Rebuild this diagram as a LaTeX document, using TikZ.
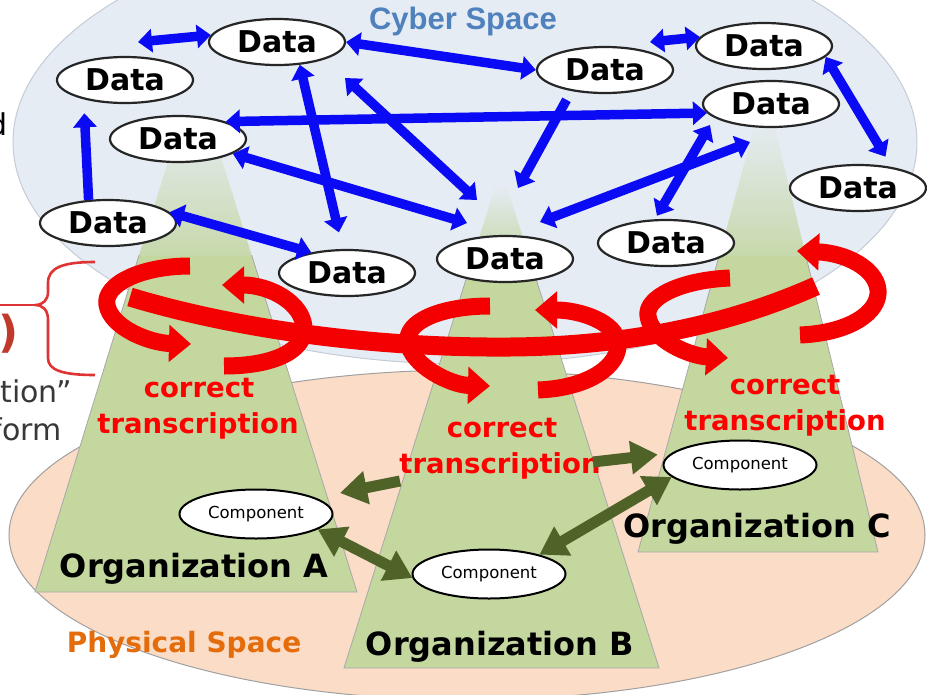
\documentclass[tikz,border=0pt]{standalone}
\usepackage{fontspec}
\setmainfont{DejaVu Sans}
\newfontfamily\arialfamily{Liberation Sans}
\usetikzlibrary{shapes.geometric,arrows.meta}

\definecolor{cyberfill}{HTML}{E6ECF4}
\definecolor{cyberline}{HTML}{C5CCD6}
\definecolor{physfill}{HTML}{FADCC7}
\definecolor{physline}{HTML}{A0A0A0}
\definecolor{orggreen}{HTML}{C4D79E}
\definecolor{peakgreen}{HTML}{CAD6C0}
\definecolor{bandgreen}{HTML}{C7D9AC}
\definecolor{orgedge}{HTML}{A8A8A8}
\definecolor{bluearr}{HTML}{0A0AF5}
\definecolor{olivearr}{HTML}{4F6228}
\definecolor{ribbonred}{HTML}{F50000}
\definecolor{cyberblue}{HTML}{4F81BD}
\definecolor{physorange}{HTML}{E46C0A}
\definecolor{darkred}{HTML}{C0392B}
\definecolor{bracered}{HTML}{E03434}

\tikzset{
  datanode/.style={ellipse, draw=black!85, line width=2.2pt, fill=white,
    minimum width=136pt, minimum height=46pt, inner sep=0pt,
    font=\bfseries\fontsize{30}{30}\selectfont},
  compnode/.style={ellipse, draw=black, line width=2pt, fill=white,
    minimum width=153pt, minimum height=49pt, inner sep=0pt,
    font=\fontsize{16.5}{16.5}\selectfont},
  barrow/.style={draw=bluearr, line width=9.5pt, >={Triangle[width=23pt,length=14pt]}, <->},
  barrowone/.style={draw=bluearr, line width=9.5pt, >={Triangle[width=23pt,length=14pt]}, ->},
  garrow/.style={draw=olivearr, line width=11pt, >={Triangle[width=32pt,length=27pt]}, <->},
  garrowone/.style={draw=olivearr, line width=11pt, >={Triangle[width=32pt,length=27pt]}, ->},
  ribbon/.style={draw=ribbonred, line width=17pt, line join=round, >={Triangle[width=36pt,length=22pt]}, ->},
  bandribbon/.style={draw=ribbonred, line width=19pt, line join=round},
  corrtext/.style={text=red, anchor=base, inner sep=0pt, font=\bfseries\fontsize{27.5}{27.5}\selectfont},
  orglabel/.style={anchor=base, inner sep=0pt, font=\bfseries\fontsize{32}{32}\selectfont},
  cuttext/.style={anchor=base east, inner sep=0pt, text=black!78, font=\fontsize{30}{30}\selectfont},
}

% One organization: a green cone, fading out where it rises into cyber space
% #1 apex, #2 base left, #3 base right, #4 height where the fade begins
\newcommand\drawOrgPeak[4]{%
  \begin{scope}
    \clip #1 -- #2 -- #3 -- cycle;
    \fill[orggreen] (0,255) rectangle (927,700);
    \shade[top color=cyberfill, middle color=peakgreen, bottom color=bandgreen] (0,#4) rectangle (927,255);
  \end{scope}
  \begin{scope}
    \clip (0,255) rectangle (927,700);
    \draw[orgedge, line width=0.8pt] #1 -- #2 -- #3 -- cycle;
  \end{scope}}

\begin{document}
\begin{tikzpicture}[x=1pt,y=-1pt]
\useasboundingbox (0,0) rectangle (927,694);
\clip (0,0) rectangle (927,694);

% the two spaces
\draw[physline, fill=physfill, line width=1pt] (467,535) ellipse [x radius=458pt, y radius=165pt];
\draw[cyberline, fill=cyberfill, line width=1pt] (465,142) ellipse [x radius=452pt, y radius=222pt];

% organizations
\drawOrgPeak{(195,74)}{(35,592)}{(357,592)}{115}
\drawOrgPeak{(501,168)}{(344,668)}{(659,668)}{185}
\drawOrgPeak{(765,88)}{(638,552)}{(878,552)}{120}

% red ribbon linking the three organizations
\draw[bandribbon] (130,297) .. controls (250,333) and (390,348) .. (510,347)
                  .. controls (640,346) and (740,320) .. (816,286);
% rotating arrows round each organization
\draw[ribbon] (190,266) .. controls (140,266) and (103,285) .. (107,305)
              .. controls (111,328) and (150,343) .. (191,344);
\draw[ribbon] (224,366) .. controls (275,366) and (305,350) .. (304,328)
              .. controls (303,303) and (270,285) .. (222,285);
\draw[ribbon] (490,306) .. controls (440,306) and (405,322) .. (408,342)
              .. controls (411,365) and (450,385) .. (490,386);
\draw[ribbon] (538,390) .. controls (590,388) and (620,365) .. (618,343)
              .. controls (616,322) and (580,310) .. (535,310);
\draw[ribbon] (730,278) .. controls (680,280) and (645,298) .. (648,316)
              .. controls (651,340) and (690,356) .. (728,358);
\draw[ribbon] (800,335) .. controls (850,333) and (880,312) .. (878,290)
              .. controls (876,268) and (845,253) .. (797,251);

% transcription labels
\node[corrtext] (ctA1) at (199,397) {correct};
\node[corrtext] (ctA2) at (198,433) {transcription};
\node[corrtext] (ctB1) at (502,437) {correct};
\node[corrtext] (ctB2) at (500,473) {transcription};
\node[corrtext] (ctC1) at (785,394) {correct};
\node[corrtext] (ctC2) at (785,430) {transcription};

% components
\node[compnode] (ca) at (256,514) {Component};
\node[compnode] (cb) at (489,574) {Component};
\node[compnode] (cc) at (740,465) {Component};

\node[orglabel] (orgA) at (194,577) {Organization A};
\node[orglabel] (orgB) at (500,655) {Organization B};
\node[orglabel] (orgC) at (757,537) {Organization C};

% links between organizations
\coordinate (ga1) at (400,481);
\coordinate (ga1t) at (340,493);
\coordinate (ga2) at (593,462);
\draw[garrowone] (ga1) -- (ga1t);
\draw[garrowone, shorten >=14pt] (ga2) -- (cc.170);
\draw[garrow] (ca.-14) -- (cb.183);
\draw[garrow] (cb.21) -- (cc.-170);

% data in cyber space
\node[datanode] (d1) at (277,42) {Data};
\node[datanode] (d2) at (125,80) {Data};
\node[datanode] (d3) at (178,139) {Data};
\node[datanode] (d4) at (108,223) {Data};
\node[datanode] (d5) at (347,273) {Data};
\node[datanode] (d6) at (505,259) {Data};
\node[datanode] (d7) at (666,243) {Data};
\node[datanode] (d8) at (858,188) {Data};
\node[datanode] (d9) at (771,104) {Data};
\node[datanode] (d10) at (764,46) {Data};
\node[datanode] (d11) at (605,70) {Data};

% data flows
\coordinate (fa) at (138,42);
\coordinate (fc) at (650,42);
\coordinate (ff1) at (345,78);
\coordinate (ff2) at (477,200);
\coordinate (fg) at (467,223);
\coordinate (fj) at (518,188);
\coordinate (fk) at (710,125);
\coordinate (fl1) at (750,142);
\coordinate (fl2) at (540,222);
\draw[barrow] (fa) -- (d1.174);
\draw[barrow] (d1.east) -- (d11.west);
\draw[barrow] (fc) -- (d10.172);
\draw[barrow] (d3.20) -- (d9.188);
\draw[barrow, shorten >=17pt] (d1.-45) -- (d5.100);
\draw[barrow] (ff1) -- (ff2);
\draw[barrow] (d3.-15) -- (fg);
\draw[barrow] (d4.10) -- (d5.150);
\draw[barrowone, shorten >=14pt] (d4.130) -- (d2.-155);
\draw[barrowone, shorten <=10pt] (d11.-148) -- (fj);
\draw[barrow, shorten >=4pt] (fk) -- (d7.115);
\draw[barrow] (fl1) -- (fl2);
\draw[barrow, shorten >=12pt] (d10.-10) -- (d8.32);

% space titles
\node[anchor=base, inner sep=0pt, text=cyberblue, font=\arialfamily\bfseries\fontsize{31}{31}\selectfont] (cyber) at (463,29) {Cyber Space};
\node[anchor=base, inner sep=0pt, text=physorange, font=\bfseries\fontsize{28}{28}\selectfont] (phys) at (184,652) {Physical Space};

% text cut by the left margin
\node[cuttext, text=black] (leftd) at (8,135) {d};
\node[anchor=base east, inner sep=0pt, text=darkred, font=\bfseries\fontsize{44}{44}\selectfont] (leftr) at (19,347) {r)};
\node[cuttext] (leftq) at (72,402) {otion”};
\node[cuttext] (leftf) at (62,440) {form};

% brace
\draw[bracered, line width=2.6pt] (0,305) -- (35,305);
\draw[bracered, line width=2.6pt] (95,262) .. controls (62,262) and (48,268) .. (48,283) -- (48,292)
  .. controls (48,300) and (43,305) .. (35,305)
  .. controls (43,305) and (48,310) .. (48,320) -- (48,358)
  .. controls (48,370) and (62,375) .. (95,375);
\end{tikzpicture}
\end{document}
